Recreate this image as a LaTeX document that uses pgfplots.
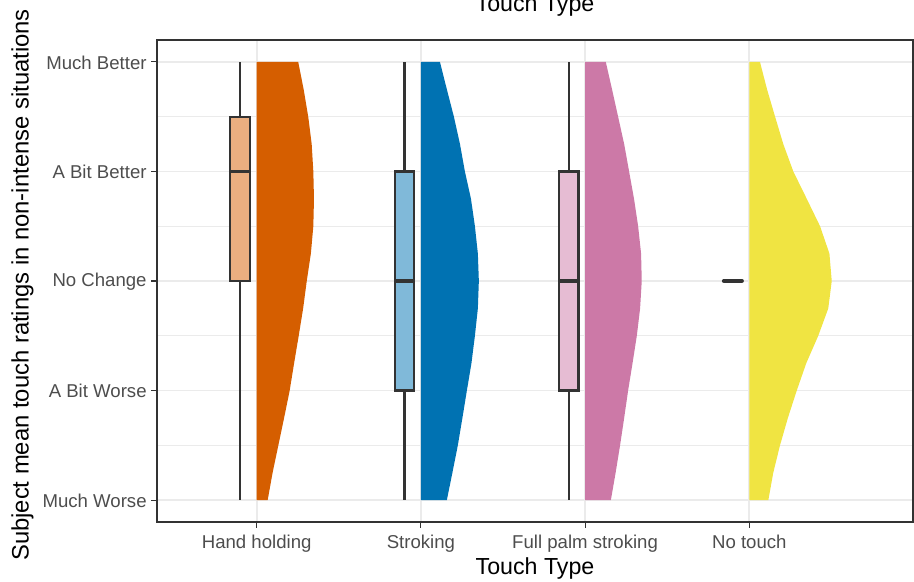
\documentclass[border=0pt]{standalone}
\usepackage{pgfplots}
\pgfplotsset{compat=1.18}
\usepgfplotslibrary{statistics}
\usepackage{pgfplotstable}
\usepackage{fontspec}
\setmainfont{Liberation Sans}

\definecolor{hhcol}{HTML}{D55E00}
\definecolor{stcol}{HTML}{0072B2}
\definecolor{fpcol}{HTML}{CC79A7}
\definecolor{ntcol}{HTML}{F0E442}
\definecolor{hhbox}{HTML}{EAAE80}
\definecolor{stbox}{HTML}{80B9D9}
\definecolor{fpbox}{HTML}{E6BCD3}
\definecolor{ntbox}{HTML}{F8F2A1}
\definecolor{grey20}{HTML}{333333}
\definecolor{grey30}{HTML}{4D4D4D}
\definecolor{grey92}{HTML}{EBEBEB}

% half-violin outlines: rating y, half width w (in category units)
\pgfplotstableread{
y w
1 0
1 0.067
1.25 0.097
1.5 0.132
1.75 0.167
2 0.201
2.25 0.228
2.5 0.256
2.75 0.283
3 0.305
3.25 0.330
3.5 0.345
3.75 0.349
4 0.345
4.25 0.335
4.5 0.314
4.75 0.286
5 0.253
5 0
}\violinHH

\pgfplotstableread{
y w
1 0
1 0.158
1.25 0.192
1.5 0.225
1.75 0.253
2 0.280
2.25 0.308
2.5 0.329
2.75 0.347
3 0.353
3.25 0.347
3.5 0.329
3.75 0.305
4 0.268
4.25 0.238
4.5 0.201
4.75 0.158
5 0.116
5 0
}\violinST

\pgfplotstableread{
y w
1 0
1 0.157
1.25 0.186
1.5 0.213
1.75 0.238
2 0.262
2.25 0.289
2.5 0.315
2.75 0.335
3 0.345
3.25 0.341
3.5 0.323
3.75 0.298
4 0.268
4.25 0.238
4.5 0.201
4.75 0.164
5 0.126
5 0
}\violinFP

\pgfplotstableread{
y w
1 0
1 0.116
1.25 0.146
1.5 0.187
1.75 0.235
2 0.289
2.25 0.347
2.5 0.420
2.75 0.481
3 0.502
3.25 0.488
3.5 0.431
3.75 0.350
4 0.268
4.25 0.207
4.5 0.157
4.75 0.108
5 0.065
5 0
}\violinNT

\begin{document}
\begin{tikzpicture}
\begin{axis}[
  at={(78.5pt,30pt)}, anchor=south west,
  scale only axis, width=378pt, height=241pt,
  xmin=0.393, xmax=4.997, ymin=0.8, ymax=5.2,
  xtick={1,2,3,4},
  xticklabels={Hand holding, Stroking, Full palm stroking, No touch},
  ytick={1,2,3,4,5},
  yticklabels={Much Worse, A Bit Worse, No Change, A Bit Better, Much Better},
  minor ytick={1.5,2.5,3.5,4.5},
  xmajorgrids, ymajorgrids, yminorgrids,
  major grid style={grey92, line width=0.9pt},
  minor grid style={grey92, line width=0.45pt},
  axis line style={grey20, line width=0.6pt},
  tick align=outside, tick pos=left,
  major tick length=3pt, minor tick length=0pt,
  major tick style={grey20, line width=0.55pt},
  ticklabel style={font=\fontsize{9.3}{11}\selectfont, text=grey30},
  xticklabel style={anchor=north, inner sep=0pt, yshift=-3.5pt},
  yticklabel style={anchor=east, inner sep=0pt, xshift=-2pt, yshift=-0.4pt},
  boxplot/draw direction=y,
]
% half violins
\addplot[fill=hhcol, draw=none] table[x expr={1+\thisrow{w}}, y=y] {\violinHH} -- cycle;
\addplot[fill=stcol, draw=none] table[x expr={2+\thisrow{w}}, y=y] {\violinST} -- cycle;
\addplot[fill=fpcol, draw=none] table[x expr={3+\thisrow{w}}, y=y] {\violinFP} -- cycle;
\addplot[fill=ntcol, draw=none] table[x expr={4+\thisrow{w}}, y=y] {\violinNT} -- cycle;

% box plots, shifted left of each category
\addplot[draw=grey20, fill=hhbox, line width=1.05pt, boxplot prepared={
  draw direction=y,
  lower whisker=1, lower quartile=3, median=4, upper quartile=4.5, upper whisker=5,
  draw position=0.9, box extend=0.12, whisker extend=0}] coordinates {};
\addplot[draw=grey20, fill=stbox, line width=1.05pt, boxplot prepared={
  draw direction=y,
  lower whisker=1, lower quartile=2, median=3, upper quartile=4, upper whisker=5,
  draw position=1.9, box extend=0.12, whisker extend=0}] coordinates {};
\addplot[draw=grey20, fill=fpbox, line width=1.05pt, boxplot prepared={
  draw direction=y,
  lower whisker=1, lower quartile=2, median=3, upper quartile=4, upper whisker=5,
  draw position=2.9, box extend=0.12, whisker extend=0}] coordinates {};
\addplot[draw=grey20, fill=ntbox, line width=1.05pt, boxplot prepared={
  draw direction=y,
  lower whisker=3, lower quartile=3, median=3, upper quartile=3, upper whisker=3,
  draw position=3.9, box extend=0.12, whisker extend=0}] coordinates {};

% thick median bars
\addplot[grey20, line width=1.8pt] coordinates {(0.84,4) (0.96,4)};
\addplot[grey20, line width=1.8pt] coordinates {(1.84,3) (1.96,3)};
\addplot[grey20, line width=1.8pt] coordinates {(2.84,3) (2.96,3)};
\addplot[grey20, line width=2pt, line cap=round] coordinates {(3.845,3) (3.955,3)};
\end{axis}

\node[anchor=base, font=\fontsize{11.6}{14}\selectfont] at (267.5pt,285pt) {Touch Type};
\node[anchor=base, font=\fontsize{11.6}{14}\selectfont] at (267.5pt,3.5pt) {Touch Type};
\node[anchor=base, rotate=90, font=\fontsize{11.9}{14}\selectfont] at (14.25pt,148.5pt)
  {Subject mean touch ratings in non-intense situations};

\pgfresetboundingbox
\path[use as bounding box] (0,0) rectangle (457pt,291pt);
\end{tikzpicture}
\end{document}
